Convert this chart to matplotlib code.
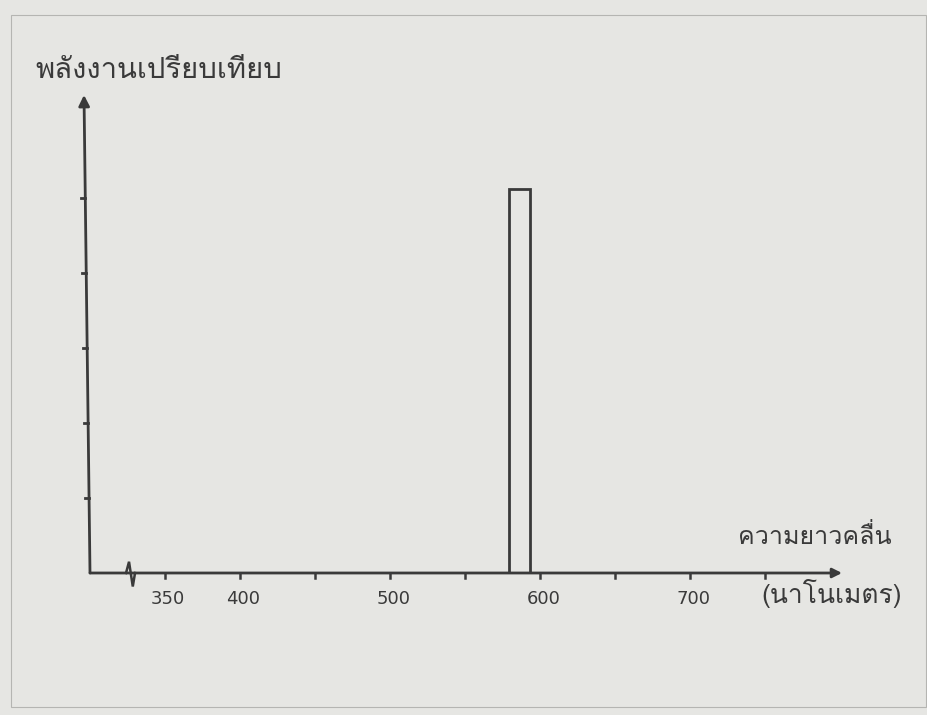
import matplotlib
matplotlib.use("Agg")
import matplotlib.pyplot as plt
from matplotlib import font_manager
from matplotlib.ft2font import FT2Font
from matplotlib.patches import Rectangle

# data
wavelengths = [350, 400, 450, 500, 550, 600, 650, 700, 750]
tick_labels = {350: "350", 400: "400", 500: "500", 600: "600", 700: "700"}
energy_ticks = [1, 2, 3, 4, 5]
bar_start = 579
bar_end = 593
bar_height = 5.12

y_label = "พลังงานเปรียบเทียบ"
x_label = "ความยาวคลื่น"
x_unit = "(นาโนเมตร)"


def thai_font():
    # pick the first installed font that has Thai glyphs
    for f in font_manager.fontManager.ttflist:
        try:
            if ord("พ") in FT2Font(f.fname).get_charmap():
                return f.name
        except Exception:
            pass
    return "DejaVu Sans"


thai = [thai_font(), "DejaVu Sans"]
ink = "#3a3a3a"

fig = plt.figure(figsize=(9.28, 7.15), dpi=100)
fig.patch.set_facecolor("#e6e6e3")

# paper edge
fig.add_artist(Rectangle((11 / 928, 8 / 715), 915 / 928, 692 / 715, transform=fig.transFigure,
                         fill=False, edgecolor="#b5b5b2", lw=0.8))

ax = fig.add_axes([90 / 928, (715 - 573) / 715, (842 - 90) / 928, (573 - 95) / 715])
ax.set_xlim(300, 801)
ax.set_ylim(0, (573 - 95) / 75)
ax.axis("off")

# axes with arrows
ax.annotate("", xy=(801, 0), xytext=(300, 0), annotation_clip=False,
            arrowprops=dict(arrowstyle="-|>", color=ink, lw=2, mutation_scale=14, shrinkA=0, shrinkB=0))
ax.annotate("", xy=(296, (573 - 95) / 75), xytext=(300, 0), annotation_clip=False,
            arrowprops=dict(arrowstyle="-|>", color=ink, lw=2, mutation_scale=16, shrinkA=0, shrinkB=0))

# axis break
ax.plot([324, 326, 328.5, 330], [0, 0.15, -0.18, 0], color=ink, lw=1.8,
        solid_joinstyle="miter", clip_on=False)

# ticks
for w in wavelengths:
    ax.plot([w, w], [0, -0.07], color=ink, lw=1.8, clip_on=False)
    if w in tick_labels:
        ax.text(w + 2, -0.35, tick_labels[w], ha="center", va="center", fontsize=13, color=ink)
for t in energy_ticks:
    xa = 300 - 4 * t / ((573 - 95) / 75)
    ax.plot([xa - 3, xa], [t, t], color=ink, lw=2, clip_on=False)

# the single spectral line
ax.bar((bar_start + bar_end) / 2, bar_height, width=bar_end - bar_start,
       fill=False, edgecolor=ink, lw=2)

# labels
fig.text(35 / 928, 1 - 70 / 715, y_label, family=thai, fontsize=21, color=ink, va="center", ha="left")
fig.text(892 / 928, 1 - 536 / 715, x_label, family=thai, fontsize=18, color=ink, va="center", ha="right")
fig.text(902 / 928, 1 - 594 / 715, x_unit, family=thai, fontsize=19, color=ink, va="center", ha="right")

fig.savefig("out.png", dpi=100, facecolor=fig.get_facecolor())
